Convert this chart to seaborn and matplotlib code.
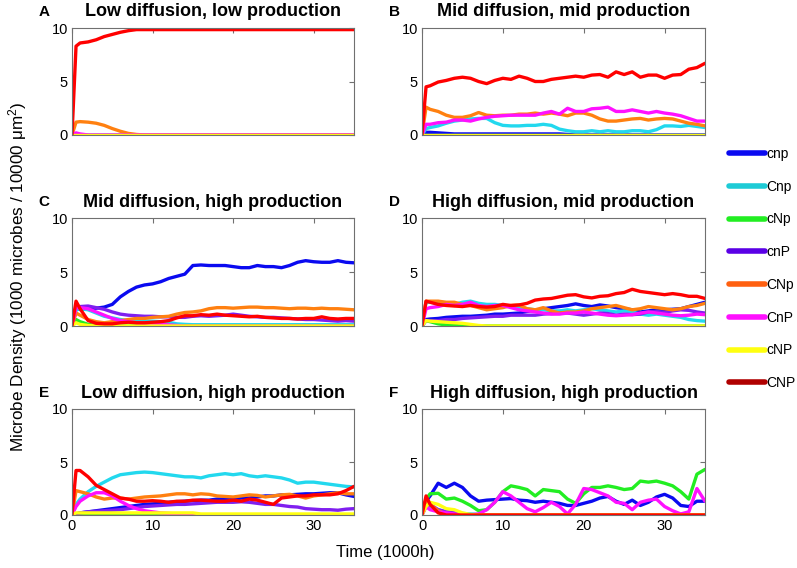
import numpy as np
import pandas as pd
import matplotlib
matplotlib.use('Agg')
import matplotlib.pyplot as plt
from matplotlib.lines import Line2D
import seaborn as sns

# time axis (1000h), shared by every panel
T = [0, 0.5, 1, 2, 3, 4, 5, 6, 7, 8, 9, 10, 11, 12, 13, 14, 15, 16, 17, 18,
     19, 20, 21, 22, 23, 24, 25, 26, 27, 28, 29, 30, 31, 32, 33, 34, 35]

TYPES = ['cnp', 'Cnp', 'cNp', 'cnP', 'CNp', 'CnP', 'cNP', 'CNP']
LINE_COLORS = ['#0a0af0', '#22d8ee', '#22ee22', '#7f1fef', '#ff8010', '#ff10ff', '#ffff10', '#ff0000']
LEGEND_COLORS = ['#0a0af0', '#1ecbd6', '#22ee22', '#5a00e6', '#ff6010', '#ff10ff', '#ffff10', '#b00000']

TITLES = ['Low diffusion, low production', 'Mid diffusion, mid production',
          'Mid diffusion, high production', 'High diffusion, mid production',
          'Low diffusion, high production', 'High diffusion, high production']
LETTERS = ['A', 'B', 'C', 'D', 'E', 'F']

# ---- panel A: low diffusion, low production
a_cnp = [0, 0, 0, 0, 0, 0, 0, 0, 0, 0, 0, 0, 0, 0, 0, 0, 0, 0, 0, 0, 0, 0, 0, 0, 0, 0, 0, 0, 0, 0, 0, 0, 0, 0, 0, 0, 0]
a_Cnp = [0, 0, 0, 0, 0, 0, 0, 0, 0, 0, 0, 0, 0, 0, 0, 0, 0, 0, 0, 0, 0, 0, 0, 0, 0, 0, 0, 0, 0, 0, 0, 0, 0, 0, 0, 0, 0]
a_cNp = [0, 0, 0, 0, 0, 0, 0, 0, 0, 0, 0, 0, 0, 0, 0, 0, 0, 0, 0, 0, 0, 0, 0, 0, 0, 0, 0, 0, 0, 0, 0, 0, 0, 0, 0, 0, 0]
a_cnP = [0, 0, 0, 0, 0, 0, 0, 0, 0, 0, 0, 0, 0, 0, 0, 0, 0, 0, 0, 0, 0, 0, 0, 0, 0, 0, 0, 0, 0, 0, 0, 0, 0, 0, 0, 0, 0]
a_CNp = [0, 1.2, 1.25, 1.2, 1.1, 0.9, 0.6, 0.35, 0.15, 0.05, 0, 0, 0, 0, 0, 0, 0, 0, 0, 0,
         0, 0, 0, 0, 0, 0, 0, 0, 0, 0, 0, 0, 0, 0, 0, 0, 0]
a_CnP = [0, 0.2, 0.1, 0, 0, 0, 0, 0, 0, 0, 0, 0, 0, 0, 0, 0, 0, 0, 0, 0, 0, 0, 0, 0, 0, 0, 0, 0, 0, 0, 0, 0, 0, 0, 0, 0, 0]
a_cNP = [0, 0, 0, 0, 0, 0, 0, 0, 0, 0, 0, 0, 0, 0, 0, 0, 0, 0, 0, 0, 0, 0, 0, 0, 0, 0, 0, 0, 0, 0, 0, 0, 0, 0, 0, 0, 0]
a_CNP = [0, 8.3, 8.6, 8.7, 8.9, 9.2, 9.4, 9.6, 9.75, 9.85, 9.85, 9.85, 9.85, 9.85, 9.85, 9.85, 9.85, 9.85, 9.85, 9.85,
         9.85, 9.85, 9.85, 9.85, 9.85, 9.85, 9.85, 9.85, 9.85, 9.85, 9.85, 9.85, 9.85, 9.85, 9.85, 9.85, 9.85]

# ---- panel B: mid diffusion, mid production
b_cnp = [0, 0.25, 0.25, 0.2, 0.15, 0.1, 0.1, 0.1, 0.1, 0.1, 0.1, 0.1, 0.1, 0.1, 0.1, 0.1, 0.1, 0.1, 0.1, 0.05,
         0, 0, 0, 0, 0, 0, 0, 0, 0, 0, 0, 0, 0, 0, 0, 0, 0]
b_Cnp = [0, 0.6, 0.7, 0.85, 1.1, 1.3, 1.4, 1.5, 1.55, 1.55, 1.15, 0.9, 0.85, 0.85, 0.9, 0.9, 1.0, 0.9, 0.55, 0.4,
         0.3, 0.3, 0.4, 0.3, 0.4, 0.3, 0.3, 0.4, 0.4, 0.3, 0.5, 0.85, 0.85, 0.8, 0.9, 0.8, 0.7]
b_cNp = [0, 0, 0, 0, 0, 0, 0, 0, 0, 0, 0, 0, 0, 0, 0, 0, 0, 0, 0, 0, 0, 0, 0, 0, 0, 0, 0, 0, 0, 0, 0, 0, 0, 0, 0, 0, 0]
b_cnP = [0, 0, 0, 0, 0, 0, 0, 0, 0, 0, 0, 0, 0, 0, 0, 0, 0, 0, 0, 0, 0, 0, 0, 0, 0, 0, 0, 0, 0, 0, 0, 0, 0, 0, 0, 0, 0]
b_CNp = [0, 2.6, 2.4, 2.2, 1.85, 1.65, 1.65, 1.8, 2.1, 1.85, 1.8, 1.85, 1.85, 1.95, 1.95, 2.05, 1.95, 2.05, 1.95, 1.8,
         2.05, 2.05, 1.85, 1.5, 1.3, 1.3, 1.4, 1.5, 1.55, 1.4, 1.5, 1.55, 1.5, 1.3, 1.1, 1.0, 0.85]
b_CnP = [0, 1.0, 1.0, 1.15, 1.2, 1.4, 1.4, 1.3, 1.5, 1.65, 1.75, 1.8, 1.85, 1.85, 1.85, 1.85, 2.05, 2.2, 1.95, 2.5,
         2.2, 2.2, 2.45, 2.5, 2.6, 2.2, 2.2, 2.35, 2.2, 2.05, 2.2, 2.05, 1.95, 1.8, 1.55, 1.3, 1.3]
b_cNP = [0, 0, 0, 0, 0, 0, 0, 0, 0, 0, 0, 0, 0, 0, 0, 0, 0, 0, 0, 0, 0, 0, 0, 0, 0, 0, 0, 0, 0, 0, 0, 0, 0, 0, 0, 0, 0]
b_CNP = [0, 4.5, 4.6, 4.95, 5.1, 5.3, 5.4, 5.3, 5.0, 4.8, 5.1, 5.3, 5.2, 5.5, 5.3, 5.0, 5.0, 5.2, 5.3, 5.4,
         5.5, 5.4, 5.6, 5.65, 5.4, 5.9, 5.65, 5.9, 5.4, 5.6, 5.6, 5.3, 5.6, 5.65, 6.15, 6.3, 6.7]

# ---- panel C: mid diffusion, high production
c_cnp = [0, 1.55, 1.55, 1.6, 1.65, 1.75, 2.0, 2.7, 3.2, 3.6, 3.8, 3.9, 4.1, 4.4, 4.6, 4.8, 5.6, 5.65, 5.6, 5.6,
         5.6, 5.5, 5.4, 5.4, 5.6, 5.5, 5.5, 5.4, 5.6, 5.9, 6.05, 5.95, 5.9, 5.9, 6.05, 5.9, 5.85]
c_Cnp = [0, 1.5, 1.6, 1.5, 1.2, 0.9, 0.75, 0.6, 0.5, 0.5, 0.45, 0.45, 0.4, 0.35, 0.2, 0.15, 0.12, 0.12, 0.12, 0.12,
         0.12, 0.12, 0.12, 0.12, 0.12, 0.12, 0.12, 0.12, 0.12, 0.12, 0.12, 0.12, 0.12, 0.12, 0.12, 0.12, 0.12]
c_cNp = [0, 0.6, 0.4, 0.15, 0.05, 0, 0, 0, 0, 0, 0, 0, 0, 0, 0, 0, 0, 0, 0, 0, 0, 0, 0, 0, 0, 0, 0, 0, 0, 0, 0, 0, 0, 0, 0, 0, 0]
c_cnP = [0, 1.8, 1.8, 1.85, 1.7, 1.55, 1.3, 1.1, 1.0, 0.95, 0.9, 0.9, 0.85, 0.85, 0.8, 0.8, 0.9, 0.95, 0.9, 0.95,
         1.0, 1.1, 1.0, 0.9, 0.85, 0.8, 0.8, 0.75, 0.7, 0.65, 0.6, 0.6, 0.55, 0.5, 0.45, 0.5, 0.45]
c_CNp = [0, 1.2, 1.0, 0.6, 0.4, 0.3, 0.4, 0.5, 0.6, 0.7, 0.7, 0.8, 0.85, 0.9, 1.1, 1.25, 1.3, 1.4, 1.6, 1.7,
         1.7, 1.65, 1.7, 1.75, 1.75, 1.7, 1.7, 1.65, 1.6, 1.65, 1.65, 1.6, 1.65, 1.6, 1.6, 1.55, 1.5]
c_CnP = [0, 1.7, 1.7, 1.6, 1.3, 1.0, 0.7, 0.5, 0.4, 0.3, 0.25, 0.2, 0.15, 0.1, 0.05, 0, 0, 0, 0, 0,
         0, 0, 0, 0, 0, 0, 0, 0, 0, 0, 0, 0, 0, 0, 0, 0, 0]
c_cNP = [0, 0.3, 0.15, 0.05, 0, 0, 0, 0, 0, 0, 0, 0, 0, 0, 0, 0, 0, 0, 0, 0, 0, 0, 0, 0, 0, 0, 0, 0, 0, 0, 0, 0, 0, 0, 0, 0, 0]
c_CNP = [0, 2.3, 1.6, 0.5, 0.25, 0.2, 0.2, 0.3, 0.35, 0.3, 0.3, 0.35, 0.4, 0.5, 0.75, 0.95, 0.95, 1.05, 1.0, 1.1,
         1.0, 0.95, 0.9, 0.85, 0.9, 0.8, 0.75, 0.7, 0.7, 0.65, 0.7, 0.7, 0.85, 0.7, 0.65, 0.7, 0.7]

# ---- panel D: high diffusion, mid production
d_cnp = [0, 0.6, 0.65, 0.7, 0.8, 0.85, 0.9, 0.9, 0.95, 1.0, 1.1, 1.1, 1.15, 1.2, 1.35, 1.4, 1.6, 1.7, 1.8, 1.9,
         2.05, 1.9, 1.8, 1.95, 1.85, 1.7, 1.6, 1.5, 1.3, 1.4, 1.5, 1.5, 1.55, 1.6, 1.8, 2.0, 2.2]
d_Cnp = [0, 2.2, 2.2, 2.1, 2.0, 2.0, 2.2, 2.3, 2.1, 2.0, 2.0, 1.9, 1.8, 1.7, 1.6, 1.5, 1.5, 1.4, 1.4, 1.5,
         1.4, 1.5, 1.6, 1.5, 1.4, 1.3, 1.4, 1.3, 1.1, 1.0, 1.1, 1.0, 0.9, 0.8, 0.6, 0.5, 0.45]
d_cNp = [0, 0.5, 0.4, 0.2, 0.1, 0.05, 0, 0, 0, 0, 0, 0, 0, 0, 0, 0, 0, 0, 0, 0, 0, 0, 0, 0, 0, 0, 0, 0, 0, 0, 0, 0, 0, 0, 0, 0, 0]
d_cnP = [0, 0.5, 0.5, 0.5, 0.6, 0.6, 0.7, 0.75, 0.8, 0.85, 0.9, 0.9, 1.0, 1.0, 1.0, 1.0, 1.1, 1.15, 1.2, 1.2,
         1.1, 1.0, 1.1, 1.2, 1.15, 1.0, 1.1, 1.05, 1.1, 1.3, 1.35, 1.25, 1.4, 1.5, 1.45, 1.3, 1.2]
d_CNp = [0, 2.3, 2.3, 2.3, 2.2, 2.2, 2.0, 1.9, 1.7, 1.5, 1.6, 1.7, 1.9, 1.95, 1.6, 1.5, 1.7, 1.4, 1.2, 1.3,
         1.3, 1.4, 1.6, 1.7, 1.8, 1.9, 1.7, 1.5, 1.6, 1.8, 1.7, 1.6, 1.5, 1.6, 1.8, 1.9, 2.1]
d_CnP = [0, 1.6, 1.7, 1.8, 2.0, 1.9, 2.0, 2.2, 1.9, 1.8, 1.9, 1.9, 1.7, 1.5, 1.4, 1.3, 1.2, 1.1, 1.1, 1.2,
         1.2, 1.3, 1.2, 1.1, 1.0, 0.95, 1.0, 1.05, 1.2, 1.3, 1.2, 1.1, 1.0, 0.95, 1.0, 1.1, 1.05]
d_cNP = [0, 0.5, 0.45, 0.4, 0.35, 0.3, 0.25, 0.15, 0.05, 0, 0, 0, 0, 0, 0, 0, 0, 0, 0, 0,
         0, 0, 0, 0, 0, 0, 0, 0, 0, 0, 0, 0, 0, 0, 0, 0, 0]
d_CNP = [0, 2.3, 2.2, 2.0, 1.9, 1.85, 1.8, 1.9, 1.8, 1.75, 1.8, 2.0, 1.9, 1.95, 2.1, 2.4, 2.5, 2.55, 2.7, 2.85,
         2.9, 2.7, 2.6, 2.75, 2.8, 3.0, 3.1, 3.4, 3.2, 3.1, 3.0, 2.9, 3.0, 2.9, 2.75, 2.75, 2.55]

# ---- panel E: low diffusion, high production
e_cnp = [0, 0.1, 0.2, 0.3, 0.4, 0.5, 0.6, 0.7, 0.8, 0.9, 1.0, 1.05, 1.1, 1.2, 1.25, 1.3, 1.35, 1.4, 1.4, 1.5,
         1.5, 1.5, 1.6, 1.6, 1.7, 1.8, 1.8, 1.9, 1.9, 1.95, 2.0, 2.0, 2.05, 2.1, 2.1, 1.9, 1.75]
e_Cnp = [0, 1.0, 1.5, 2.2, 2.7, 3.1, 3.5, 3.8, 3.9, 4.0, 4.05, 4.0, 3.9, 3.8, 3.7, 3.6, 3.6, 3.5, 3.7, 3.8,
         3.9, 3.8, 3.9, 3.7, 3.6, 3.7, 3.6, 3.5, 3.3, 3.0, 3.1, 3.1, 3.0, 2.9, 2.8, 2.7, 2.65]
e_cNp = [0, 0.1, 0.1, 0.05, 0, 0, 0, 0, 0, 0, 0, 0, 0, 0, 0, 0, 0, 0, 0, 0, 0, 0, 0, 0, 0, 0, 0, 0, 0, 0, 0, 0, 0, 0, 0, 0, 0]
e_cnP = [0, 0.1, 0.2, 0.3, 0.35, 0.4, 0.45, 0.5, 0.6, 0.7, 0.8, 0.85, 0.9, 0.95, 1.0, 1.0, 1.05, 1.1, 1.15, 1.2,
         1.2, 1.2, 1.25, 1.2, 1.1, 1.0, 1.0, 0.9, 0.8, 0.75, 0.6, 0.55, 0.5, 0.5, 0.45, 0.55, 0.6]
e_CNp = [0, 2.3, 2.2, 2.0, 1.7, 1.5, 1.6, 1.6, 1.5, 1.6, 1.7, 1.75, 1.8, 1.9, 2.0, 2.0, 1.9, 2.0, 1.95, 1.8,
         1.75, 1.7, 1.8, 1.9, 1.85, 1.7, 1.8, 1.9, 1.95, 1.8, 1.6, 1.8, 1.9, 2.0, 2.1, 2.0, 2.0]
e_CnP = [0, 0.8, 1.3, 1.8, 2.1, 2.1, 1.8, 1.3, 0.9, 0.6, 0.4, 0.3, 0.2, 0.15, 0.1, 0.05, 0, 0, 0, 0,
         0, 0, 0, 0, 0, 0, 0, 0, 0, 0, 0, 0, 0, 0, 0, 0, 0]
e_cNP = [0, 0.2, 0.2, 0.2, 0.2, 0.2, 0.2, 0.2, 0.2, 0.2, 0.2, 0.2, 0.2, 0.2, 0.2, 0.2, 0.2, 0.1, 0.1, 0.1,
         0.1, 0.1, 0.1, 0.1, 0.1, 0.1, 0.1, 0.1, 0.1, 0.1, 0.1, 0.1, 0.1, 0.1, 0.1, 0.1, 0.1]
e_CNP = [0, 4.2, 4.2, 3.6, 2.8, 2.4, 2.0, 1.6, 1.5, 1.3, 1.3, 1.35, 1.3, 1.2, 1.3, 1.3, 1.4, 1.4, 1.35, 1.3,
         1.3, 1.4, 1.3, 1.5, 1.4, 1.2, 1.0, 1.6, 1.7, 1.8, 1.8, 1.9, 1.9, 1.9, 2.0, 2.3, 2.7]

# ---- panel F: high diffusion, high production
f_cnp = [0, 1.3, 1.8, 3.0, 2.6, 3.0, 2.6, 1.8, 1.3, 1.4, 1.45, 1.5, 1.55, 1.4, 1.35, 1.2, 1.3, 1.2, 1.1, 0.9,
         0.9, 1.1, 1.3, 1.6, 1.75, 1.3, 1.0, 1.4, 0.9, 1.2, 1.7, 1.95, 1.6, 0.9, 0.8, 1.3, 1.3]
f_Cnp = [0, 1.0, 0.8, 0.5, 0.3, 0.2, 0.15, 0.1, 0.05, 0.02, 0, 0, 0, 0, 0, 0, 0, 0, 0, 0,
         0, 0, 0, 0, 0, 0, 0, 0, 0, 0, 0, 0, 0, 0, 0, 0, 0]
f_cNp = [0, 1.5, 2.0, 2.05, 1.5, 1.6, 1.3, 0.9, 0.4, 0.5, 1.2, 2.2, 2.75, 2.6, 2.4, 1.8, 2.4, 2.3, 2.2, 1.5,
         1.1, 2.0, 2.6, 2.6, 2.75, 2.6, 2.4, 2.5, 3.2, 3.1, 3.2, 3.0, 2.75, 2.2, 1.5, 3.85, 4.3]
f_cnP = [0, 0.8, 1.0, 0.5, 0.3, 0.2, 0.1, 0, 0, 0, 0, 0, 0, 0, 0, 0, 0, 0, 0, 0,
         0, 0, 0, 0, 0, 0, 0, 0, 0, 0, 0, 0, 0, 0, 0, 0, 0]
f_CNp = [0, 1.5, 1.0, 0.4, 0.1, 0, 0, 0, 0, 0, 0, 0, 0, 0, 0, 0, 0, 0, 0, 0, 0, 0, 0, 0, 0, 0, 0, 0, 0, 0, 0, 0, 0, 0, 0, 0, 0]
f_CnP = [0, 0.8, 0.5, 0.3, 0.2, 0.1, 0.05, 0.02, 0.1, 0.5, 1.2, 2.2, 1.8, 1.2, 0.6, 0.3, 0.7, 1.2, 0.8, 0.1,
         1.0, 2.5, 2.4, 2.1, 1.8, 1.2, 1.1, 0.5, 1.2, 1.4, 1.5, 0.8, 0.4, 0.1, 0.3, 2.5, 1.3]
f_cNP = [0, 0.8, 1.2, 1.0, 0.6, 0.5, 0.2, 0.05, 0, 0, 0, 0, 0, 0, 0, 0, 0, 0, 0, 0,
         0, 0, 0, 0, 0, 0, 0, 0, 0, 0, 0, 0, 0, 0, 0, 0, 0]
f_CNP = [0, 1.8, 1.0, 0.2, 0, 0, 0, 0, 0, 0, 0, 0, 0, 0, 0, 0, 0, 0, 0, 0, 0, 0, 0, 0, 0, 0, 0, 0, 0, 0, 0, 0, 0, 0, 0, 0, 0]

PANELS = [
    [a_cnp, a_Cnp, a_cNp, a_cnP, a_CNp, a_CnP, a_cNP, a_CNP],
    [b_cnp, b_Cnp, b_cNp, b_cnP, b_CNp, b_CnP, b_cNP, b_CNP],
    [c_cnp, c_Cnp, c_cNp, c_cnP, c_CNp, c_CnP, c_cNP, c_CNP],
    [d_cnp, d_Cnp, d_cNp, d_cnP, d_CNp, d_CnP, d_cNP, d_CNP],
    [e_cnp, e_Cnp, e_cNp, e_cnP, e_CNp, e_CnP, e_cNP, e_CNP],
    [f_cnp, f_Cnp, f_cNp, f_cnP, f_CNp, f_CnP, f_cNP, f_CNP],
]


def main():
    sns.set_theme(style='white')
    plt.rcParams['font.family'] = ['Liberation Sans', 'DejaVu Sans']
    plt.rcParams['mathtext.default'] = 'regular'
    plt.rcParams['text.color'] = 'black'

    W, H = 797, 568
    fig = plt.figure(figsize=(W / 100, H / 100), dpi=100)

    # axes boxes in pixels: (left, right) per column, (top, bottom) per row
    lefts = [(72, 354), (422, 705)]
    rows = [(28, 135), (218, 326), (409, 515)]

    for i, series in enumerate(PANELS):
        for s in series:
            assert len(s) == len(T), (LETTERS[i], len(s))
        r, c = divmod(i, 2)
        x0, x1 = lefts[c]
        y0, y1 = rows[r]
        ax = fig.add_axes([x0 / W, 1 - y1 / H, (x1 - x0) / W, (y1 - y0) / H])

        df = pd.DataFrame({
            't': T * len(TYPES),
            'v': [v for s in series for v in s],
            'type': [name for name in TYPES for _ in T],
        })
        sns.lineplot(data=df, x='t', y='v', hue='type', hue_order=TYPES,
                     palette=LINE_COLORS, estimator=None, linewidth=2.4,
                     legend=False, ax=ax)

        ax.set_xlim(0, 35)
        ax.set_ylim(0, 10)
        ax.set_xticks([0, 10, 20, 30])
        ax.set_yticks([0, 5, 10])
        ax.set_xlabel('')
        ax.set_ylabel('')
        ax.tick_params(direction='in', length=3.5, width=0.8, color='#707070',
                       top=True, right=True, labelsize=10.5, pad=3, labelcolor='black')
        if r < 2:
            ax.set_xticklabels([])
        for sp in ax.spines.values():
            sp.set_color('#707070')
            sp.set_linewidth(0.8)

        cy = y0 - 16
        fig.text((x0 + x1) / 2 / W, 1 - cy / H, TITLES[i], ha='center', va='center',
                 fontsize=13, fontweight='bold')
        fig.text((44 if c == 0 else 394) / W, 1 - cy / H, LETTERS[i], ha='center',
                 va='center', fontsize=11, fontweight='bold')

    fig.text(18 / W, 1 - 277 / H, 'Microbe Density (1000 microbes / 10000 μm$^2$)',
             rotation=90, ha='center', va='center', fontsize=12.3)
    fig.text(385 / W, 1 - 552 / H, 'Time (1000h)', ha='center', va='center', fontsize=12)

    handles = [Line2D([0], [0], color=col, lw=4, solid_capstyle='round') for col in LEGEND_COLORS]
    fig.legend(handles, TYPES, loc='upper left', bbox_to_anchor=(722 / W, 1 - 140 / H),
               frameon=False, fontsize=10, handlelength=2.6, handletextpad=0.1,
               labelspacing=1.35, borderpad=0)

    fig.savefig('out.png', dpi=100)


if __name__ == '__main__':
    main()
